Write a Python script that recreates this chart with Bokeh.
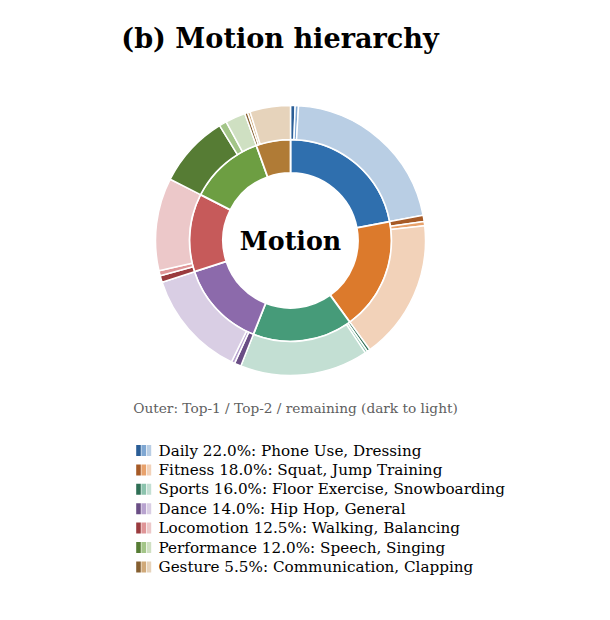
import numpy as np
from bokeh.plotting import figure
from bokeh.models import Range1d
from bokeh.core.properties import value
from bokeh.embed import file_html
from bokeh.resources import INLINE

# ---- data ----
categories = ["Daily", "Fitness", "Sports", "Dance", "Locomotion", "Performance", "Gesture"]
shares = [22.0, 18.0, 16.0, 14.0, 12.5, 12.0, 5.5]
top1_names = ["Phone Use", "Squat", "Floor Exercise", "Hip Hop", "Walking", "Speech", "Communication"]
top2_names = ["Dressing", "Jump Training", "Snowboarding", "General", "Balancing", "Singing", "Clapping"]
top1_share = [0.55, 0.75, 0.35, 0.8, 0.8, 8.7, 0.35]
top2_share = [0.4, 0.5, 0.3, 0.4, 0.6, 0.9, 0.3]

base_colors = ["#2f6fae", "#dc7a2c", "#469b79", "#8c6aab", "#c65a5a", "#6d9e42", "#b07b36"]
dark_colors = ["#2a5d96", "#a65a26", "#2f6f55", "#6a4e85", "#9a3b3e", "#567c34", "#855f30"]
mid_colors = ["#7fa7d2", "#e8a26c", "#8cc3ad", "#b8a3cf", "#df9597", "#a3c588", "#d0a979"]
light_colors = ["#b9cee4", "#f2d2b9", "#c3dfd3", "#d9cee4", "#ecc8c9", "#cfe0c2", "#e6d3bb"]

W, H = 594, 604

def sx(X):
    return X

def sy(Y):
    return H - Y

p = figure(width=W, height=H, x_range=Range1d(0, W), y_range=Range1d(0, H),
           x_axis_type=None, y_axis_type=None, min_border=0,
           output_backend="svg", toolbar_location=None)
p.grid.visible = False
p.outline_line_color = None
p.background_fill_color = "white"

cx, cy = sx(290), sy(240)
r_hole, r_mid, r_out = 67.5, 101, 135

def to_bokeh(a_cw_start, a_cw_end):
    return np.pi / 2 - a_cw_end, np.pi / 2 - a_cw_start

# inner ring
vals = np.array(shares)
ends = np.cumsum(vals) / 100 * 2 * np.pi
starts = ends - vals / 100 * 2 * np.pi
sa, ea = to_bokeh(starts, ends)
p.annular_wedge(x=cx, y=cy, inner_radius=r_hole, outer_radius=r_mid,
                start_angle=sa, end_angle=ea, fill_color=base_colors,
                line_color="white", line_width=1.8)

# outer ring
ovals, ocols = [], []
for i in range(len(categories)):
    rest = shares[i] - top1_share[i] - top2_share[i]
    ovals += [top1_share[i], top2_share[i], rest]
    ocols += [dark_colors[i], mid_colors[i], light_colors[i]]
ovals = np.array(ovals)
oends = np.cumsum(ovals) / 100 * 2 * np.pi
ostarts = oends - ovals / 100 * 2 * np.pi
osa, oea = to_bokeh(ostarts, oends)
p.annular_wedge(x=cx, y=cy, inner_radius=r_mid, outer_radius=r_out,
                start_angle=osa, end_angle=oea, fill_color=ocols,
                line_color="white", line_width=1.5)

# center label
p.text(x=[cx], y=[cy], text=["Motion"], text_align="center", text_baseline="middle",
       text_font=value("DejaVu Serif"), text_font_style="bold", text_font_size="25.3px",
       text_color="black")

# title
p.text(x=[sx(279.5)], y=[sy(38)], text=["(b) Motion hierarchy"], text_align="center",
       text_baseline="middle", text_font=value("DejaVu Serif"), text_font_style="bold",
       text_font_size="27.1px", text_color="black")

# subtitle
p.text(x=[sx(295)], y=[sy(407)], text=["Outer: Top-1 / Top-2 / remaining (dark to light)"],
       text_align="center", text_baseline="middle", text_font=value("DejaVu Serif"),
       text_font_size="13.7px", text_color="#606060")

# legend
row_y = [sy(450 + 19.4 * i) for i in range(len(categories))]
labels = [f"{c} {s:.1f}%: {a}, {b}" for c, s, a, b in zip(categories, shares, top1_names, top2_names)]
for k, cols in enumerate([dark_colors, mid_colors, light_colors]):
    p.rect(x=[sx(138 + 5.2 * k)] * len(categories), y=row_y, width=4.6, height=11,
           fill_color=cols, line_color=None)
p.text(x=[sx(158)] * len(categories), y=row_y, text=labels, text_align="left",
       text_baseline="middle", text_font=value("DejaVu Serif"), text_font_size="15.2px",
       text_color="black")

open("out.html", "w").write(file_html(p, INLINE))
